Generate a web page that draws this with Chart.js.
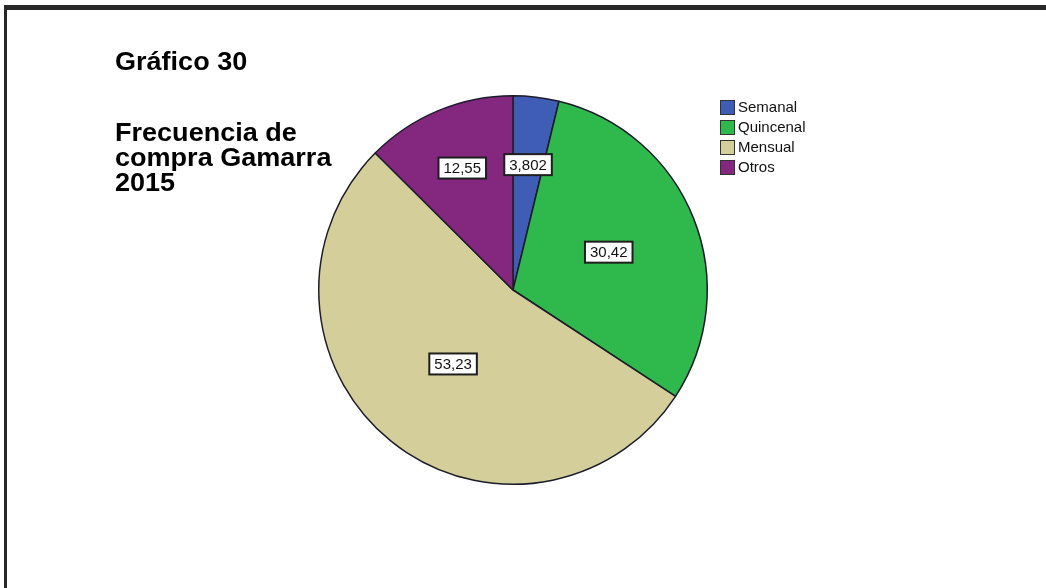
<!DOCTYPE html>
<html lang="es">
<head>
<meta charset="utf-8">
<title>Frecuencia de compra Gamarra 2015</title>
<script src="https://cdn.jsdelivr.net/npm/chart.js@4/dist/chart.umd.min.js"></script>
<style>
  html, body { margin: 0; padding: 0; background: #fff; }
  #wrap { position: relative; width: 1046px; height: 588px; overflow: hidden; }
  #frame {
    position: absolute; left: 4px; top: 5px; width: 1100px; height: 700px;
    border-top: 5px solid #282828; border-left: 3px solid #282828;
  }
  .titulo {
    position: absolute; left: 115px;
    font-family: "Liberation Sans", Arial, sans-serif; font-weight: bold;
    font-size: 26px; line-height: 25px; color: #000;
    transform: scaleX(1.04); transform-origin: left top;
    white-space: nowrap;
  }
  #pie { position: absolute; left: 0; top: 0; }
</style>
</head>
<body>
<div id="wrap">
  <canvas id="pie" width="1046" height="588"></canvas>
  <div id="frame"></div>
  <div class="titulo" style="top:49px">Gráfico 30</div>
  <div class="titulo" style="top:120px">Frecuencia de<br>compra Gamarra<br>2015</div>
</div>
<script>
// datos
const categorias = ["Semanal", "Quincenal", "Mensual", "Otros"];
const porcentajes = [3.802, 30.42, 53.23, 12.55];
const etiquetas = ["3,802", "30,42", "53,23", "12,55"];
const colores = ["#3f5db5", "#2fb84b", "#d4cf9a", "#84287f"];

// etiquetas con recuadro blanco dentro de cada sector
const etiquetasPlugin = {
  id: "etiquetasSector",
  afterDatasetsDraw(chart, args, opts) {
    const ctx = chart.ctx;
    const meta = chart.getDatasetMeta(0);
    ctx.save();
    ctx.font = "15px 'Liberation Sans', Arial, sans-serif";
    ctx.textAlign = "center";
    ctx.textBaseline = "middle";
    meta.data.forEach((arc, i) => {
      const p = arc.getProps(["x", "y", "startAngle", "endAngle", "outerRadius"], true);
      const mid = (p.startAngle + p.endAngle) / 2;
      const r = p.outerRadius * opts.radio[i];
      const x = p.x + Math.cos(mid) * r;
      const y = p.y + Math.sin(mid) * r;
      const txt = etiquetas[i];
      const w = ctx.measureText(txt).width + 10;
      const h = 21;
      ctx.fillStyle = "#fff";
      ctx.fillRect(x - w / 2, y - h / 2, w, h);
      ctx.strokeStyle = "#1e1e1e";
      ctx.lineWidth = 2;
      ctx.strokeRect(x - w / 2, y - h / 2, w, h);
      ctx.fillStyle = "#111";
      ctx.fillText(txt, x, y + 1);
    });
    ctx.restore();
  }
};

// leyenda a la derecha del pastel
const leyendaPlugin = {
  id: "leyendaSpss",
  afterDraw(chart) {
    const ctx = chart.ctx;
    ctx.save();
    ctx.font = "15px 'Liberation Sans', Arial, sans-serif";
    ctx.textBaseline = "middle";
    chart.data.labels.forEach((lab, i) => {
      const y = 100 + i * 20;
      ctx.fillStyle = colores[i];
      ctx.fillRect(720, y, 15, 15);
      ctx.strokeStyle = "#333";
      ctx.lineWidth = 1;
      ctx.strokeRect(720.5, y + 0.5, 14, 14);
      ctx.fillStyle = "#111";
      ctx.fillText(lab, 738, y + 8);
    });
    ctx.restore();
  }
};

new Chart(document.getElementById("pie"), {
  type: "pie",
  data: {
    labels: categorias,
    datasets: [{
      data: porcentajes,
      backgroundColor: colores,
      borderColor: "#1c1c2a",
      borderWidth: 1.5
    }]
  },
  options: {
    responsive: false,
    animation: false,
    layout: { padding: { left: 318, right: 338, top: 95, bottom: 103 } },
    plugins: {
      legend: { display: false },
      tooltip: { enabled: false },
      etiquetasSector: { radio: [0.65, 0.53, 0.49, 0.68] }
    }
  },
  plugins: [etiquetasPlugin, leyendaPlugin]
});
</script>
</body>
</html>
